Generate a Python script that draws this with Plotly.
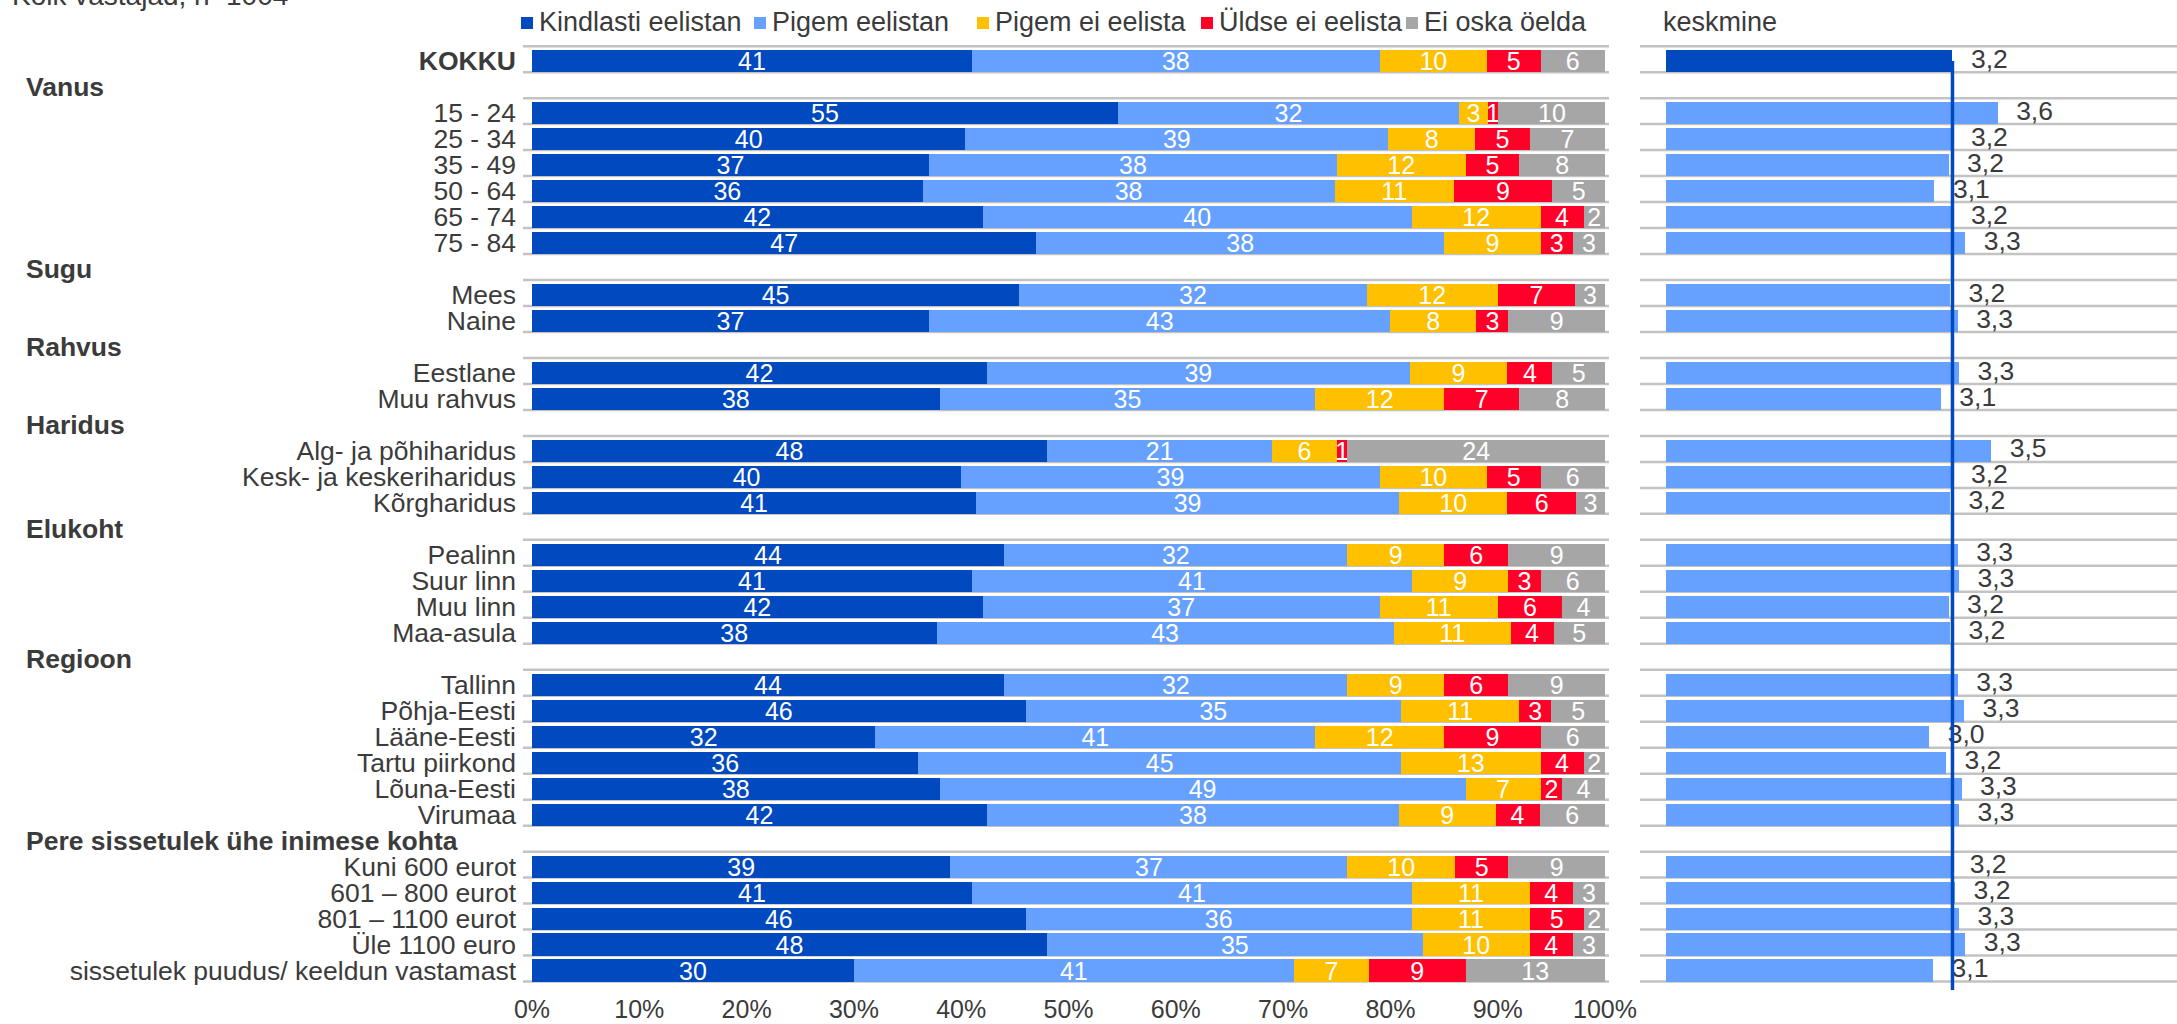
import plotly.graph_objects as go

# ---------------- data ----------------
rows = ["KOKKU", "Vanus", "15 - 24", "25 - 34", "35 - 49", "50 - 64", "65 - 74", "75 - 84",
        "Sugu", "Mees", "Naine", "Rahvus", "Eestlane", "Muu rahvus",
        "Haridus", "Alg- ja põhiharidus", "Kesk- ja keskeriharidus", "Kõrgharidus",
        "Elukoht", "Pealinn", "Suur linn", "Muu linn", "Maa-asula",
        "Regioon", "Tallinn", "Põhja-Eesti", "Lääne-Eesti", "Tartu piirkond", "Lõuna-Eesti", "Virumaa",
        "Pere sissetulek ühe inimese kohta", "Kuni 600 eurot", "601 – 800 eurot", "801 – 1100 eurot",
        "Üle 1100 euro", "sissetulek puudus/ keeldun vastamast"]
headers = ["Vanus", "Sugu", "Rahvus", "Haridus", "Elukoht", "Regioon", "Pere sissetulek ühe inimese kohta"]

series_names = ["Kindlasti eelistan", "Pigem eelistan", "Pigem ei eelista", "Üldse ei eelista", "Ei oska öelda"]

kindlasti = [41, None, 54.6, 40.4, 37, 36.4, 42, 47, None, 45.4, 37, None, 42.4, 38, None, 48, 40, 41.4,
             None, 44, 41, 42, 37.7, None, 44, 46, 32, 36, 38, 42.4, None, 39, 41, 46, 48, 30]
pigem = [38, None, 31.8, 39.4, 38, 38.4, 40, 38, None, 32.4, 43, None, 39.4, 35, None, 21, 39, 39.4,
         None, 32, 41, 37, 42.6, None, 32, 35, 41, 45, 49, 38.4, None, 37, 41, 36, 35, 41]
pigem_ei = [10, None, 2.7, 8.1, 12, 11.1, 12, 9, None, 12.2, 8, None, 9.1, 12, None, 6, 10, 10.1,
            None, 9, 9, 11, 10.9, None, 9, 11, 12, 13, 7, 9.0, None, 10, 11, 11, 10, 7]
uldse = [5, None, 0.9, 5.1, 5, 9.2, 4, 3, None, 7.2, 3, None, 4.2, 7, None, 1, 5, 6.4,
         None, 6, 3, 6, 4.0, None, 6, 3, 9, 4, 2, 4.1, None, 5, 4, 5, 4, 9]
ei_oska = [6, None, 10.1, 7.0, 8, 4.9, 2, 3, None, 2.8, 9, None, 4.9, 8, None, 24, 6, 2.7,
           None, 9, 6, 4, 4.8, None, 9, 5, 6, 2, 4, 6.1, None, 9, 3, 2, 3, 13]

keskmine = [3.22, None, 3.57, 3.22, 3.19, 3.08, 3.22, 3.32, None, 3.20, 3.26, None, 3.27, 3.13,
            None, 3.52, 3.22, 3.20, None, 3.26, 3.27, 3.19, 3.20, None, 3.26, 3.31, 3.04, 3.17,
            3.29, 3.27, None, 3.21, 3.24, 3.27, 3.32, 3.07]

x_ticks = [0, 10, 20, 30, 40, 50, 60, 70, 80, 90, 100]
x_ticklabels = [f"{v}%" for v in x_ticks]

# ---------------- style ----------------
W, H = 2177, 1024
MT, MB = 45, 34
PLOT_BOTTOM = H - MB
PLOT_H = H - MT - MB
FONT = "Liberation Sans, Arial, sans-serif"
TXT = "#3b3b3b"
colors = ["#0049BF", "#66A1FF", "#FFC000", "#FF0029", "#A6A6A6"]
dark_blue = "#0049BF"
light_blue = "#66A1FF"
grid_col = "#C3C3C3"
FS = 26.5


def px(x):
    return x / W


def py(p):
    return (PLOT_BOTTOM - p) / PLOT_H


ypos = list(range(len(rows)))
series_vals = [kindlasti, pigem, pigem_ei, uldse, ei_oska]

fig = go.Figure()
for name, vals, col in zip(series_names, series_vals, colors):
    fig.add_trace(go.Bar(
        x=vals, y=ypos, orientation="h", name=name, width=0.85,
        marker=dict(color=col, line=dict(width=0)),
        texttemplate="%{x:.0f}", textposition="inside", insidetextanchor="middle",
        constraintext="none", textangle=0,
        textfont=dict(color="white", size=25, family=FONT),
        showlegend=False, xaxis="x", yaxis="y", hoverinfo="skip",
    ))

mean_colors = [dark_blue if i == 0 else light_blue for i in ypos]
fig.add_trace(go.Bar(
    x=keskmine, y=ypos, orientation="h", width=0.85, name="keskmine",
    marker=dict(color=mean_colors, line=dict(width=0)),
    showlegend=False, xaxis="x2", yaxis="y", hoverinfo="skip",
))
fig.add_trace(go.Scatter(
    x=keskmine, y=ypos, mode="markers+text", xaxis="x2", yaxis="y",
    marker=dict(size=28, color="rgba(0,0,0,0)"),
    texttemplate="%{x:.1f}", textposition="middle right",
    textfont=dict(color=TXT, size=FS, family=FONT),
    showlegend=False, hoverinfo="skip", cliponaxis=False,
))

shapes = []
# category separator lines
for i in range(-1, len(rows)):
    yl = i + 0.425
    shapes.append(dict(type="line", xref="paper", yref="y", x0=px(523), x1=px(1609), y0=yl, y1=yl,
                       line=dict(color=grid_col, width=2.5), layer="below"))
    shapes.append(dict(type="line", xref="paper", yref="y", x0=px(1640), x1=1, y0=yl, y1=yl,
                       line=dict(color=grid_col, width=2.5), layer="below"))
# vertical average line at KOKKU value
shapes.append(dict(type="line", xref="x2", yref="y", x0=keskmine[0], x1=keskmine[0],
                   y0=ypos[0], y1=len(rows) - 0.25, line=dict(color=dark_blue, width=3.5), layer="above"))

annotations = []
# group headers
for i, r in enumerate(rows):
    if r in headers:
        annotations.append(dict(text="<b>" + r + "</b>", xref="paper", yref="y", x=px(24), y=i,
                                xanchor="left", yanchor="middle", showarrow=False,
                                font=dict(size=FS, color=TXT, family=FONT)))
# legend (manual)
leg_x = [521, 754, 977, 1201, 1406]
for name, col, lx in zip(series_names, colors, leg_x):
    shapes.append(dict(type="rect", xref="paper", yref="paper", x0=px(lx), x1=px(lx + 12),
                       y0=py(29), y1=py(17), fillcolor=col, line=dict(width=0)))
    annotations.append(dict(text=name, xref="paper", yref="paper", x=px(lx + 16), y=py(22),
                            xanchor="left", yanchor="middle", showarrow=False,
                            font=dict(size=27, color=TXT, family=FONT)))
annotations.append(dict(text="keskmine", xref="paper", yref="paper", x=px(1661), y=py(22),
                        xanchor="left", yanchor="middle", showarrow=False,
                        font=dict(size=27, color=TXT, family=FONT)))
# clipped subtitle at the very top
annotations.append(dict(text="Kõik vastajad, n=1004", xref="paper", yref="paper", x=px(10), y=py(13),
                        xanchor="left", yanchor="bottom", showarrow=False,
                        font=dict(size=28, color=TXT, family=FONT)))

ticktext = ["<b>KOKKU</b>" if r == "KOKKU" else ("" if r in headers else r) for r in rows]

fig.update_layout(
    width=W, height=H, autosize=False,
    margin=dict(l=0, r=0, t=MT, b=MB, pad=0, autoexpand=False),
    paper_bgcolor="white", plot_bgcolor="white",
    barmode="stack", bargap=0.15, separators=", ",
    font=dict(family=FONT, color=TXT, size=FS),
    xaxis=dict(domain=[px(532), px(1605)], range=[0, 100], tickvals=x_ticks, ticktext=x_ticklabels,
               showgrid=False, zeroline=False, showline=False, ticks="", ticklabelstandoff=2,
               tickfont=dict(size=25, color=TXT, family=FONT), anchor="y", fixedrange=True,
               automargin=False),
    xaxis2=dict(domain=[px(1666), 1], range=[1, 4.96], visible=False, anchor="y", fixedrange=True),
    yaxis=dict(range=[len(rows) - 0.25, -0.62], tickvals=ypos, ticktext=ticktext,
               showgrid=False, zeroline=False, showline=False, ticks="", ticklabelstandoff=15,
               tickfont=dict(size=FS, color=TXT, family=FONT), fixedrange=True, automargin=False),
    shapes=shapes, annotations=annotations, showlegend=False,
)

fig.write_html("out.html", config={"displayModeBar": False},
               post_script="document.body.style.margin='0';document.body.style.overflow='hidden';")
